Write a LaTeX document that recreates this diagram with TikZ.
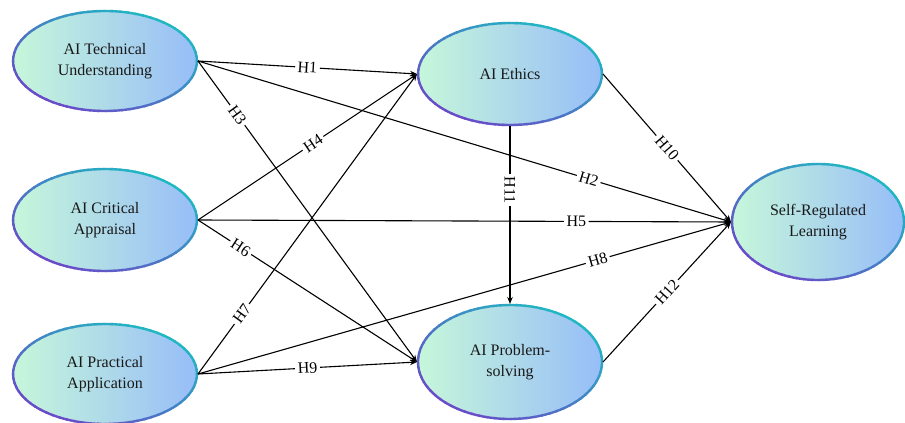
\documentclass[tikz,border=0pt]{standalone}
\usepackage{fontspec}
\setmainfont{Liberation Serif}
\usetikzlibrary{shapes.geometric,arrows.meta}
\definecolor{fillL}{HTML}{C6F7DA}
\definecolor{fillR}{HTML}{97BDF8}
\definecolor{bordT}{HTML}{1FB8C2}
\definecolor{bordP}{HTML}{6A4BC8}
\tikzset{
  construct/.style={ellipse, inner sep=0pt, outer sep=1pt, left color=fillL, right color=fillR,
    align=center, font=\fontsize{16}{21}\selectfont, text=black!90},
  link/.style={line width=1.1pt, -{Stealth[length=7pt,width=5.5pt]}},
  hlab/.style={fill=white, sloped, inner sep=2.5pt, font=\fontsize{16}{16}\selectfont}
}
\newcommand{\gradring}[3]{%
  \foreach \a in {0,5,...,355}{%
    \pgfmathsetmacro{\gmix}{50+50*cos(\a-45)}%
    \draw[line width=2.4pt, color=bordT!\gmix!bordP] (#1.center) ++(\a:#2 and #3)
      arc[start angle=\a, end angle=\a+6, x radius=#2, y radius=#3];
  }}
\begin{document}
\begin{tikzpicture}[x=1pt,y=1pt]
\useasboundingbox (0,0) rectangle (905,423);
\node[construct, minimum width=184pt, minimum height=100pt] (TU) at (105,362) {AI Technical\\Understanding};
\node[construct, minimum width=184pt, minimum height=102pt] (CA) at (105,203) {AI Critical\\Appraisal};
\node[construct, minimum width=184pt, minimum height=100pt] (PA) at (105,49) {AI Practical\\Application};
\node[construct, minimum width=184pt, minimum height=102pt] (ETH) at (510,349) {AI Ethics};
\node[construct, minimum width=184pt, minimum height=114pt] (PS) at (510,61) {AI Problem-\\solving};
\node[construct, minimum width=172pt, minimum height=116pt] (SRL) at (818,201) {Self-Regulated\\Learning};
\gradring{TU}{92}{50}
\gradring{CA}{92}{51}
\gradring{PA}{92}{50}
\gradring{ETH}{92}{51}
\gradring{PS}{92}{57}
\gradring{SRL}{86}{58}

\draw[link] (TU.east) -- node[hlab,pos=0.5]{H1} (ETH.west);
\draw[link] (TU.east) -- node[hlab,pos=0.733]{H2} (SRL.west);
\draw[link] (TU.east) -- node[hlab,pos=0.18]{H3} (PS.west);
\draw[link] (CA.east) -- node[hlab,pos=0.525]{H4} (ETH.west);
\draw[link] (CA.east) -- node[hlab,pos=0.71]{H5} (SRL.west);
\draw[link] (CA.east) -- node[hlab,pos=0.195]{H6} (PS.west);
\draw[link] (PA.east) -- node[hlab,pos=0.20]{H7} (ETH.west);
\draw[link] (PA.east) -- node[hlab,pos=0.75]{H8} (SRL.west);
\draw[link] (PA.east) -- node[hlab,pos=0.5]{H9} (PS.west);
\draw[link] (ETH.east) -- node[hlab,pos=0.5]{H10} (SRL.west);
\draw[link] (ETH.south) -- node[hlab,pos=0.36]{H11} (PS.north);
\draw[link] (PS.east) -- node[hlab,pos=0.5]{H12} (SRL.west);
\end{tikzpicture}
\end{document}
